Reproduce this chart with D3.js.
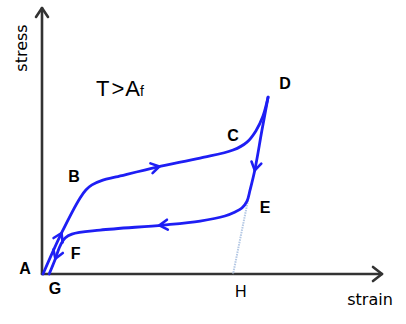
<!DOCTYPE html>
<html>
<head>
<meta charset="utf-8">
<script src="https://cdn.jsdelivr.net/npm/d3@7"></script>
<style>
  html, body { margin: 0; padding: 0; background: #fff; }
  svg { display: block; }
</style>
</head>
<body>
<svg width="406" height="324"></svg>
<script>
// loading path A -> B -> C -> D (strain, stress)
const loadStrain = [0.03, 0.59, 1.12, 1.29, 1.47, 1.79, 2.18, 3.38, 4.65, 5.62, 6.03, 6.29, 6.50, 6.65];
const loadStress = [0, 15.8, 28.6, 31.6, 33.5, 35.3, 36.5, 40.2, 43.6, 46.6, 49.6, 53.8, 59.4, 66.5];

// unloading path D -> E -> F -> G
const unloadStrain = [6.65, 6.47, 6.26, 6.12, 6.03, 5.88, 5.68, 5.38, 4.65, 3.56, 1.71, 0.88, 0.68, 0.53, 0.38, 0.21];
const unloadStress = [66.5, 54.1, 39.1, 31.6, 27.4, 24.8, 23.3, 21.8, 19.9, 18.4, 16.5, 15.0, 13.5, 10.5, 5.3, 0];

// elastic line E -> H
const dotStrain = [6.06, 5.62];
const dotStress = [27.8, 0];

// direction arrows: which path and where
const arrowPath = ["load", "load", "unload", "unload", "unload"];
const arrowStrain = [0.57, 3.45, 6.27, 3.45, 0.41];
const arrowStress = [15.5, 40.4, 39.0, 18.5, 5.6];

// point labels
const pointNames = ["A", "B", "C", "D", "E", "F", "G", "H"];
const pointStrain = [-0.5, 0.94, 5.62, 7.15, 6.56, 0.99, 0.38, 5.85];
const pointStress = [0, 34.5, 50.0, 69.5, 23.0, 5.6, -7.5, -8.8];

const svg = d3.select("svg");
const blue = "#1e1ef4";
const axisColor = "#333";

const x = d3.scaleLinear().domain([0, 10]).range([42, 382]);
const y = d3.scaleLinear().domain([0, 100]).range([274, 8]);

// axes
const axisG = svg.append("g")
    .attr("stroke", axisColor)
    .attr("stroke-width", 2.6)
    .attr("fill", "none")
    .attr("stroke-linecap", "round")
    .attr("stroke-linejoin", "round");
axisG.append("line")
    .attr("x1", x(0)).attr("y1", y(0))
    .attr("x2", x(10)).attr("y2", y(0));
axisG.append("line")
    .attr("x1", x(0)).attr("y1", y(0))
    .attr("x2", x(0)).attr("y2", y(100));
axisG.append("path")
    .attr("d", `M${x(10) - 9},${y(0) - 7}L${x(10)},${y(0)}L${x(10) - 9},${y(0) + 7}`);
axisG.append("path")
    .attr("d", `M${x(0) - 6},${y(100) + 9}L${x(0)},${y(100)}L${x(0) + 6},${y(100) + 9}`);

// E-H dotted line
svg.append("line")
    .attr("x1", x(dotStrain[0])).attr("y1", y(dotStress[0]))
    .attr("x2", x(dotStrain[1])).attr("y2", y(dotStress[1]))
    .attr("stroke", "#b4c8e4")
    .attr("stroke-width", 2)
    .attr("stroke-dasharray", "1.5,1");

const line = d3.line()
    .x(d => x(d[0]))
    .y(d => y(d[1]))
    .curve(d3.curveCatmullRom.alpha(0.5));

const paths = {};
paths.load = svg.append("path")
    .datum(loadStrain.map((s, i) => [s, loadStress[i]]))
    .attr("d", line)
    .attr("fill", "none")
    .attr("stroke", blue)
    .attr("stroke-width", 2.8)
    .attr("stroke-linecap", "round");
paths.unload = svg.append("path")
    .datum(unloadStrain.map((s, i) => [s, unloadStress[i]]))
    .attr("d", line)
    .attr("fill", "none")
    .attr("stroke", blue)
    .attr("stroke-width", 2.8)
    .attr("stroke-linecap", "round");

// arrowheads placed on the path nearest to each given point
arrowPath.forEach((p, i) => {
    const node = paths[p].node();
    const total = node.getTotalLength();
    const tx = x(arrowStrain[i]), ty = y(arrowStress[i]);
    let best = 0, bestD = Infinity;
    for (let l = 0; l <= total; l += 0.5) {
        const pt = node.getPointAtLength(l);
        const dd = (pt.x - tx) ** 2 + (pt.y - ty) ** 2;
        if (dd < bestD) { bestD = dd; best = l; }
    }
    const a = node.getPointAtLength(Math.max(0, best - 2));
    const b = node.getPointAtLength(Math.min(total, best + 2));
    const tip = node.getPointAtLength(best);
    const ang = Math.atan2(b.y - a.y, b.x - a.x) * 180 / Math.PI;
    svg.append("path")
        .attr("transform", `translate(${tip.x},${tip.y}) rotate(${ang})`)
        .attr("d", "M-8,-5L0,0L-8,5")
        .attr("fill", "none")
        .attr("stroke", blue)
        .attr("stroke-width", 2.6)
        .attr("stroke-linecap", "round")
        .attr("stroke-linejoin", "round");
});

// labels
svg.selectAll(".pt")
    .data(pointNames)
    .enter()
    .append("text")
    .attr("class", "pt")
    .attr("x", (d, i) => x(pointStrain[i]))
    .attr("y", (d, i) => y(pointStress[i]))
    .attr("text-anchor", "middle")
    .attr("font-family", "Liberation Sans, Arial, sans-serif")
    .attr("font-weight", d => d === "H" ? "normal" : "bold")
    .attr("font-size", 16)
    .attr("fill", "#000")
    .text(d => d);

svg.append("text")
    .attr("x", 370).attr("y", 305)
    .attr("text-anchor", "middle")
    .attr("font-family", "DejaVu Sans, sans-serif")
    .attr("font-size", 16)
    .attr("fill", "#000")
    .text("strain");

svg.append("text")
    .attr("transform", "translate(27,48) rotate(-90)")
    .attr("text-anchor", "middle")
    .attr("font-family", "DejaVu Sans, sans-serif")
    .attr("font-size", 16)
    .attr("fill", "#000")
    .text("stress");

const tt = svg.append("text")
    .attr("x", 96).attr("y", 96)
    .attr("font-family", "Liberation Sans, Arial, sans-serif")
    .attr("font-size", 22)
    .attr("fill", "#000");
tt.append("tspan").text("T");
tt.append("tspan").attr("dx", 2).text(">");
tt.append("tspan").attr("dx", 1).text("A");
tt.append("tspan").attr("font-size", 14).text("f");
</script>
</body>
</html>
